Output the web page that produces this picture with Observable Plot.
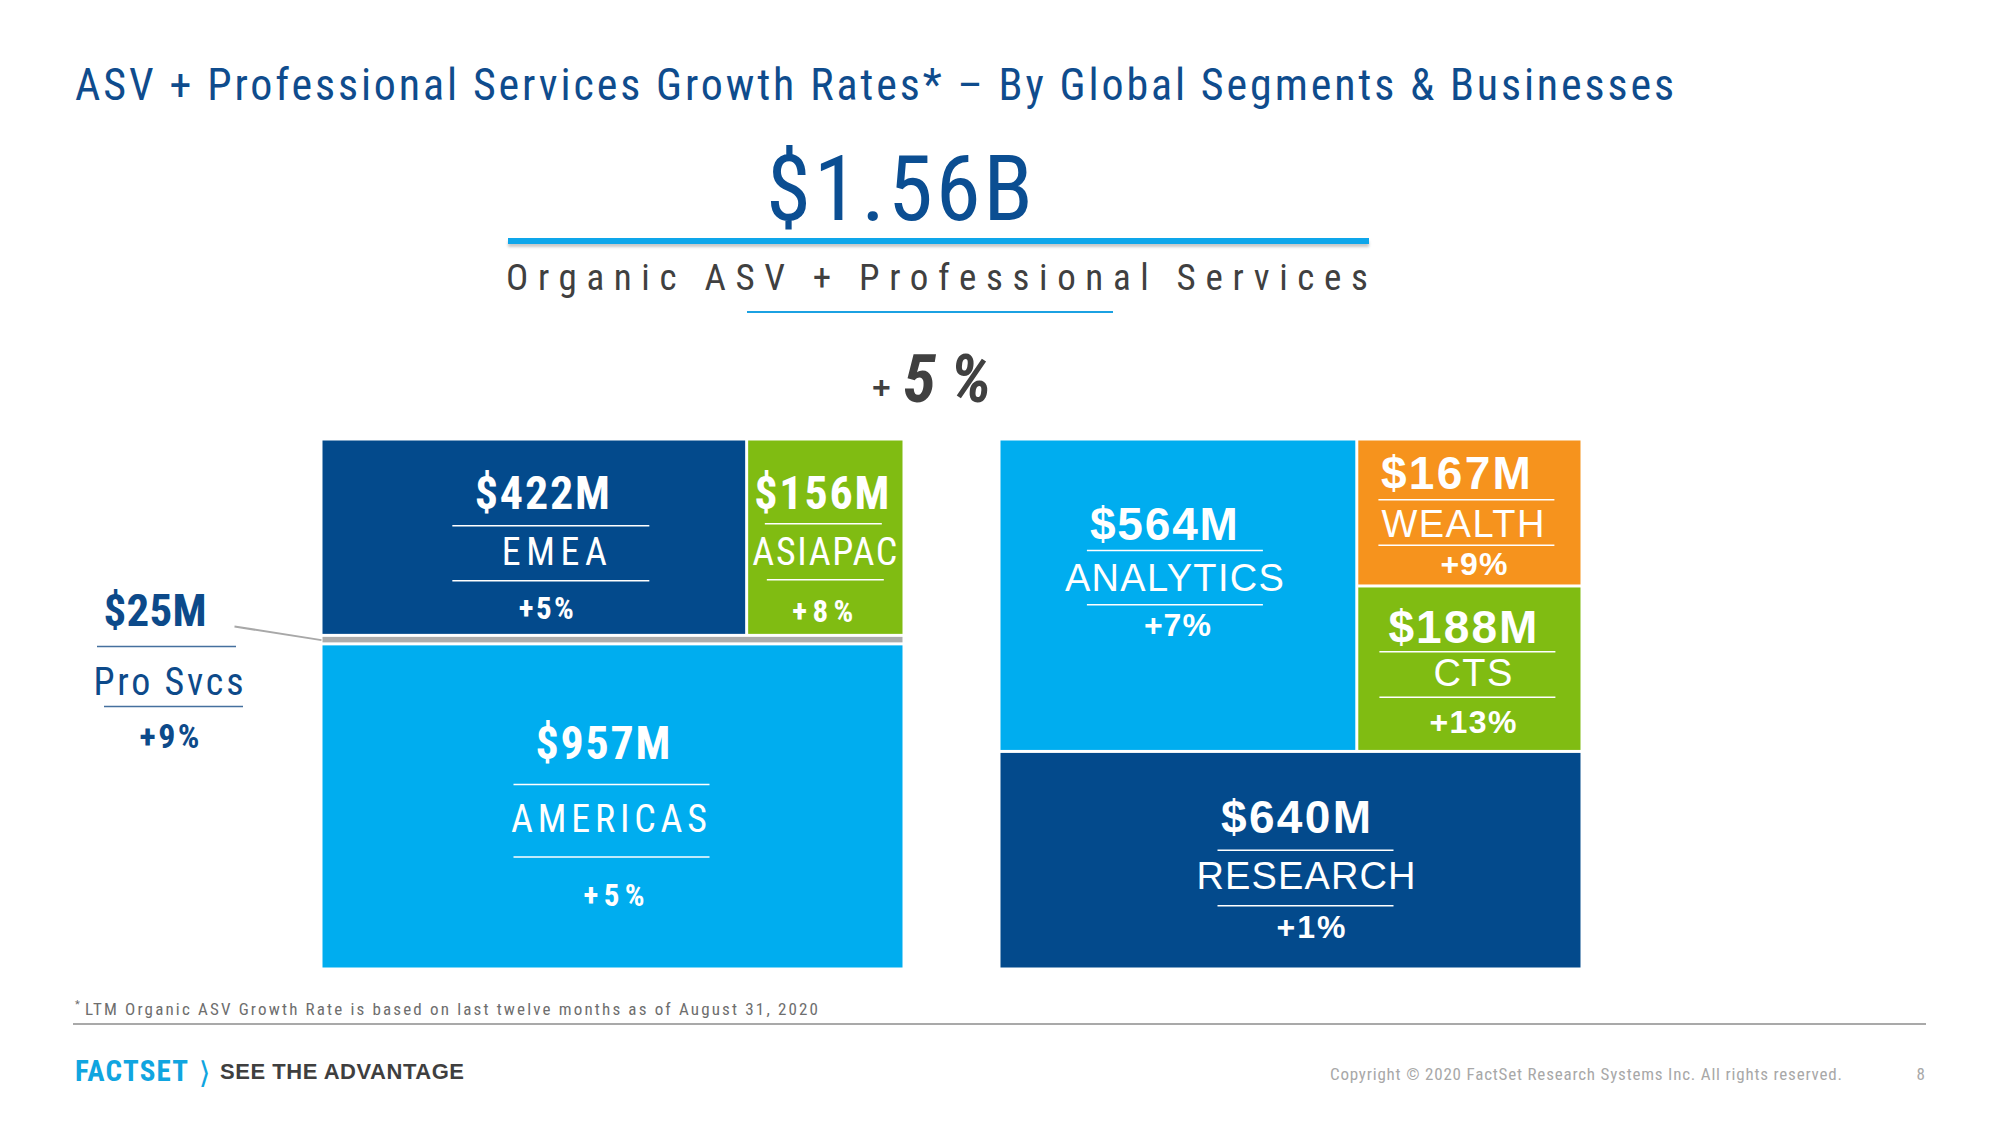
<!DOCTYPE html>
<html>
<head>
<meta charset="utf-8">
<script src="https://cdn.jsdelivr.net/npm/d3@7"></script>
<script src="https://cdn.jsdelivr.net/npm/@observablehq/plot@0.6"></script>
<style>
  html, body { margin:0; padding:0; background:#fff; overflow:hidden; }
  #slide { position:relative; width:2000px; height:1125px; overflow:hidden; background:#fff; }
  .t { position:absolute; white-space:nowrap; line-height:1; margin:0; }
  .narrow { font-family: "Liberation Sans Narrow", "Arial Narrow", "Roboto Condensed", "DejaVu Sans Condensed", sans-serif; }
  .sans { font-family: "Liberation Sans", Arial, sans-serif; }
  .bar { position:absolute; }
  #chart { position:absolute; left:0; top:420px; width:2000px; height:580px; }
</style>
</head>
<body>
<div id="slide">
  <div id="title" class="t narrow"></div>
  <div id="total" class="t narrow"></div>
  <div class="bar" style="left:508px;top:238px;width:861px;height:6px;background:#0ea6ea;box-shadow:0 3px 3px rgba(0,0,0,0.22);"></div>
  <div id="subtitle" class="t narrow"></div>
  <div class="bar" style="left:747px;top:311px;width:366px;height:2px;background:#1ba1e2;"></div>
  <div id="plus" class="t sans"></div>
  <div id="growth" class="t narrow"></div>
  <div id="chart"></div>
  <div id="fnstar" class="t narrow"></div>
  <div id="footnote" class="t narrow"></div>
  <div class="bar" style="left:73px;top:1023px;width:1853px;height:2px;background:#a9a9a9;"></div>
  <div id="logo" class="t narrow"></div>
  <div id="chev" class="t"></div>
  <div id="tagline" class="t sans"></div>
  <div id="copy" class="t narrow"></div>
  <div id="page" class="t narrow"></div>
</div>
<script>
// ---------------- data ----------------
const segmentNames   = ["EMEA", "ASIAPAC", "Pro Svcs", "AMERICAS"];
const segmentValues  = [422, 156, 25, 957];      // $M
const segmentGrowth  = [5, 8, 9, 5];             // %
const businessNames  = ["ANALYTICS", "WEALTH", "CTS", "RESEARCH"];
const businessValues = [564, 167, 188, 640];     // $M
const businessGrowth = [7, 9, 13, 1];            // %
const totalGrowth    = 5;                        // %
const titleText     = "ASV + Professional Services Growth Rates* \u2013 By Global Segments & Businesses";
const subtitleText  = "Organic ASV + Professional Services";
const footnoteText  = "LTM Organic ASV Growth Rate is based on last twelve months as of August 31, 2020";
const logoText      = "FACTSET";
const taglineText   = "SEE THE ADVANTAGE";
const copyrightText = "Copyright \u00a9 2020 FactSet Research Systems Inc. All rights reserved.";
const pageNumber    = "8";

// ---------------- styles / layout constants ----------------
const NARROW = "'Liberation Sans Narrow', 'Arial Narrow', 'Roboto Condensed', 'DejaVu Sans Condensed', sans-serif";
const SANS = "'Liberation Sans', Arial, sans-serif";
const PANEL_W = 583, PANEL_H = 530, GAP_W = 95, LEFT = 321, TOP = 19, SVG_W = 2000, SVG_H = 580;
const gapU = GAP_W / PANEL_W;
const C = {dark: "#034a8c", cyan: "#00adef", green: "#80bc12", orange: "#f6931d", gray: "#acacac", navyText: "#0d4a8a"};
const FILL = {EMEA: C.dark, ASIAPAC: C.green, "Pro Svcs": C.gray, AMERICAS: C.cyan,
              ANALYTICS: C.cyan, WEALTH: C.orange, CTS: C.green, RESEARCH: C.dark};
const segFont = {value: {size: 46, weight: "bold"}, label: {size: 38, weight: "normal"}, pct: {size: 31, weight: "bold"}};
const bizFont = {value: {size: 46, weight: "bold"}, label: {size: 38, weight: "normal"}, pct: {size: 32, weight: "bold"}};
// offsets [value, line1, label, line2, pct] relative to box centre (px); w = text widths [value, label, pct]
const STYLE = {
  EMEA:     {family: NARROW, font: segFont, color: "#fff", lineColor: "#fff", lineW: 197, w: [135, 105, 55], dy: [-29, -12, 27, 43, 81],  dx: [8, 17, 20, 17, 12]},
  ASIAPAC:  {family: NARROW, font: segFont, color: "#fff", lineColor: "#fff", lineW: 117, w: [135, 145, 61], dy: [-29, -14, 27, 42, 84], dx: [-4, -2, -1, 0, -3]},
  AMERICAS: {family: NARROW, font: segFont, color: "#fff", lineColor: "#fff", lineW: 196, w: [135, 196, 61], dy: [-48, -22.5, 25, 50, 99], dx: [-10, -1, -4, -1, 1]},
  "Pro Svcs": {family: NARROW, font: {value: {size: 45, weight: "bold"}, label: {size: 38, weight: "normal"}, pct: {size: 34, weight: "bold"}},
              color: C.navyText, lineColor: "#45709e", lineW: 139, w: [103, 150, 60], dy: [-14.6, 6.4, 54.4, 66.4, 107.4], dx: [-166.5, -154.5, -153, -147.5, -152]},
  ANALYTICS: {family: SANS, font: bizFont, color: "#fff", lineColor: "#fff", lineW: 176, w: [148, 219, 67], dy: [-55.6, -45.3, -4.6, 9.1, 40.6], dx: [-14.5, -3, -4, -3, -1]},
  WEALTH:    {family: SANS, font: bizFont, color: "#fff", lineColor: "#fff", lineW: 176, w: [150, 163, 67], dy: [-24.4, -13.3, 23.7, 32.2, 61.8], dx: [-14, -3, -7, -3, 4]},
  CTS:       {family: SANS, font: bizFont, color: "#fff", lineColor: "#fff", lineW: 176, w: [149, 79, 87], dy: [-26, -17.5, 16.5, 28, 64], dx: [-7, -2, 3, -2, 3]},
  RESEARCH:  {family: SANS, font: bizFont, color: "#fff", lineColor: "#fff", lineW: 176, w: [150, 219, 69], dy: [-28, -10.4, 28.4, 45, 77.3], dx: [5, 15, 15, 15, 20]}
};
const CALLOUT_LINK = [87, -13.6]; // start of connector relative to the Pro Svcs bar (px)

// ---------------- treemap layout from values ----------------
const seg = segmentNames.map((name, i) => ({name, value: segmentValues[i], growth: segmentGrowth[i]}));
const biz = businessNames.map((name, i) => ({name, value: businessValues[i], growth: businessGrowth[i]}));
const segTree = {children: [{children: [seg[0], seg[1]]}, seg[2], seg[3]]};
const bizTree = {children: [{children: [biz[0], {children: [biz[1], biz[2]]}]}, biz[3]]};
const tile = (node, x0, y0, x1, y1) => (node.depth % 2 ? d3.treemapDice : d3.treemapSlice)(node, x0, y0, x1, y1);
function layout(tree, offset) {
  const root = d3.hierarchy(tree).sum(d => d.value || 0);
  d3.treemap().size([1, 1]).round(false).tile(tile)(root);
  return root.leaves().map(l => ({
    name: l.data.name, value: l.data.value, growth: l.data.growth,
    x0: l.x0 + offset, x1: l.x1 + offset, y0: l.y0, y1: l.y1,
    cx: (l.x0 + l.x1) / 2 + offset, cy: (l.y0 + l.y1) / 2
  }));
}
const boxes = [...layout(segTree, 0), ...layout(bizTree, 1 + gapU)];

// ---------------- marks ----------------
const marks = [
  Plot.rect(boxes, {x1: "x0", x2: "x1", y1: "y0", y2: "y1", fill: d => FILL[d.name], inset: 1.5})
];
const textWidths = []; // in order of the text marks
for (const box of boxes) {
  const st = STYLE[box.name];
  const ax = box.name === "Pro Svcs" ? "x0" : "cx";
  const parts = [["value", `$${box.value}M`, 0], ["line"], ["label", box.name, 1], ["line"], ["pct", `+${box.growth}%`, 2]];
  parts.forEach(([role, txt, wi], i) => {
    if (role === "line") {
      const hw = st.lineW / 2 / PANEL_W;
      marks.push(Plot.ruleY([box], {y: "cy", x1: d => d[ax] - hw, x2: d => d[ax] + hw, dx: st.dx[i], dy: st.dy[i], stroke: st.lineColor, strokeWidth: 1.5}));
    } else {
      const f = st.font[role];
      textWidths.push(st.w[wi]);
      marks.push(Plot.text([box], {x: ax, y: "cy", text: () => txt, dx: st.dx[i], dy: st.dy[i], fill: st.color,
        fontSize: f.size, fontWeight: f.weight, fontFamily: st.family, textAnchor: "middle", lineAnchor: "bottom"}));
    }
  });
}
const pro = boxes.filter(d => d.name === "Pro Svcs");
marks.push(Plot.link(pro, {x1: d => d.x0 - CALLOUT_LINK[0] / PANEL_W, y1: d => d.cy + CALLOUT_LINK[1] / PANEL_H, x2: "x0", y2: "cy", stroke: "#a8a8a8", strokeWidth: 2}));

const chart = Plot.plot({
  width: SVG_W, height: SVG_H,
  marginLeft: LEFT, marginRight: SVG_W - LEFT - (2 * PANEL_W + GAP_W), marginTop: TOP, marginBottom: SVG_H - TOP - PANEL_H,
  x: {domain: [0, 2 + gapU], axis: null},
  y: {domain: [0, 1], reverse: true, axis: null},
  style: {background: "none", overflow: "visible"},
  marks
});
document.getElementById("chart").appendChild(chart);
chart.querySelectorAll("text").forEach((t, i) => {
  if (textWidths[i] != null) {
    // only add spacing, never squeeze glyphs together
    const natural = t.getComputedTextLength();
    if (textWidths[i] > natural) {
      t.setAttribute("textLength", textWidths[i]);
      t.setAttribute("lengthAdjust", "spacing");
    }
  }
});

// ---------------- header / footer text ----------------
function place(id, text, {x, baseline, anchor = "start", width = null, size, weight = "normal", style = "normal", color, ls = null}) {
  const el = document.getElementById(id);
  el.textContent = text;
  Object.assign(el.style, {fontSize: size + "px", fontWeight: weight, fontStyle: style, color, left: "0px", top: "0px", letterSpacing: "0px"});
  let ink = el.getBoundingClientRect().width;
  if (width != null) {
    const n = Array.from(text).length;
    const s = n > 1 ? (width - ink) / (n - 1) : 0;
    el.style.letterSpacing = s + "px";
    ink = width;
  } else if (ls != null) {
    el.style.letterSpacing = ls + "px";
    ink = el.getBoundingClientRect().width - ls;
  }
  const probe = document.createElement("span");
  probe.style.cssText = "display:inline-block;width:0;height:0;vertical-align:baseline;";
  el.appendChild(probe);
  const base = probe.getBoundingClientRect().top - el.getBoundingClientRect().top;
  el.removeChild(probe);
  const left = anchor === "middle" ? x - ink / 2 : anchor === "end" ? x - ink : x;
  el.style.left = left + "px";
  el.style.top = (baseline - base) + "px";
}
const totalB = d3.sum(segmentValues) / 1000;
place("title", titleText, {x: 75, baseline: 100, width: 1599, size: 44, color: "#0f4c8d"});
place("total", `$${totalB.toFixed(2)}B`, {x: 766, baseline: 220, width: 267, size: 91, color: "#0b4e92"});
place("subtitle", subtitleText, {x: 506, baseline: 290, width: 862, size: 37, color: "#404040"});
place("plus", "+", {x: 872, baseline: 398, size: 32, weight: "bold", color: "#404040"});
place("growth", `${totalGrowth}%`, {x: 903, baseline: 402, size: 67, weight: "bold", style: "italic", color: "#404040", ls: 14});
place("fnstar", "*", {x: 75, baseline: 1008, size: 11, color: "#6e6e6e"});
place("footnote", footnoteText, {x: 85, baseline: 1015, width: 733, size: 17, color: "#6e6e6e"});
place("logo", logoText, {x: 75, baseline: 1081, width: 113, size: 29, weight: "bold", color: "#10a5e0"});
document.getElementById("chev").style.fontFamily = "'DejaVu Sans', sans-serif";
place("chev", "\u27e9", {x: 204.5, anchor: "middle", baseline: 1083, size: 30, color: "#10a5e0"});
place("tagline", taglineText, {x: 220, baseline: 1079, width: 244, size: 22, weight: "bold", color: "#3f3f3f"});
place("copy", copyrightText, {x: 1330, baseline: 1080, width: 512, size: 17, color: "#a8a8a8"});
place("page", pageNumber, {x: 1925, anchor: "end", baseline: 1080, size: 17, color: "#a8a8a8"});
</script>
</body>
</html>
